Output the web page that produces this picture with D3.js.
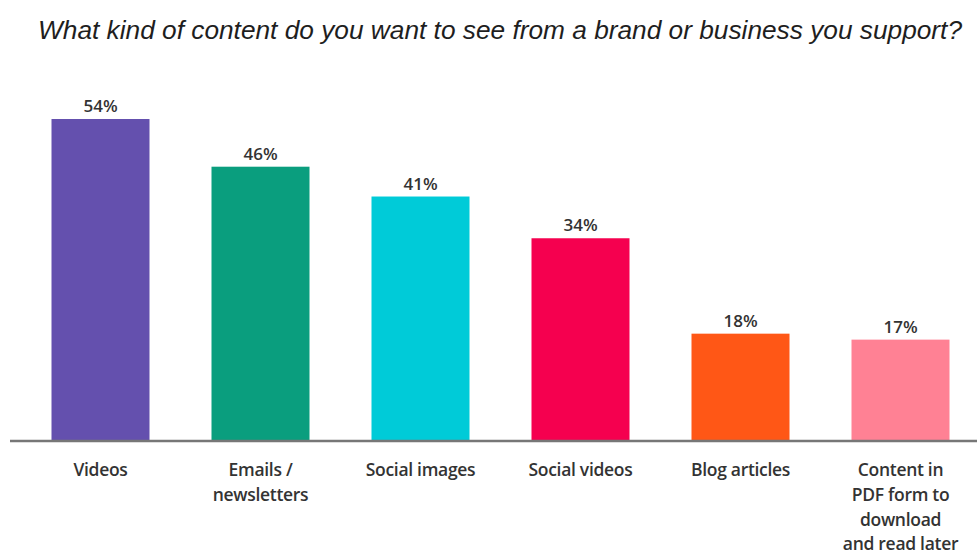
<!DOCTYPE html>
<html>
<head>
<meta charset="utf-8">
<script src="https://cdn.jsdelivr.net/npm/d3@7"></script>
<style>
  body { margin: 0; background: #fff; }
  svg { display: block; }
</style>
</head>
<body>
<script>
// data
var categories = ["Videos", "Emails /\nnewsletters", "Social images", "Social videos",
                  "Blog articles", "Content in\nPDF form to\ndownload\nand read later"];
var values = [54, 46, 41, 34, 18, 17];
var colors = ["#6450ae", "#0a9e7e", "#00cbd8", "#f5004f", "#ff5716", "#ff8194"];

var width = 977, height = 556;

var svg = d3.select("body").append("svg")
    .attr("width", width)
    .attr("height", height);

// title
svg.append("text")
    .attr("x", 38)
    .attr("y", 39)
    .attr("textLength", 924)
    .attr("lengthAdjust", "spacingAndGlyphs")
    .style("font-family", "'Liberation Sans', Arial, sans-serif")
    .style("font-style", "italic")
    .style("font-size", "25px")
    .style("fill", "#1e1e1e")
    .text("What kind of content do you want to see from a brand or business you support?");

var xScale = d3.scaleBand()
    .domain(categories)
    .range([20.5, 980.5])
    .paddingInner(0.3875)
    .paddingOuter(0.19375);

var yScale = d3.scaleLinear()
    .domain([0, 54])
    .range([441, 119]);

// bars
svg.append("g").selectAll("rect")
    .data(values)
    .enter()
    .append("rect")
    .attr("x", function(d, i) { return xScale(categories[i]); })
    .attr("y", function(d) { return yScale(d); })
    .attr("width", xScale.bandwidth())
    .attr("height", function(d) { return yScale(0) - yScale(d); })
    .attr("fill", function(d, i) { return colors[i]; });

// value labels
svg.append("g").selectAll("text")
    .data(values)
    .enter()
    .append("text")
    .attr("x", function(d, i) { return xScale(categories[i]) + xScale.bandwidth() / 2; })
    .attr("y", function(d) { return yScale(d) - 7; })
    .attr("text-anchor", "middle")
    .style("font-family", "'Open Sans', sans-serif")
    .style("font-size", "17px")
    .style("font-weight", "600")
    .style("fill", "#333")
    .text(function(d) { return d + "%"; });

// baseline
svg.append("line")
    .attr("x1", 10)
    .attr("x2", width)
    .attr("y1", yScale(0))
    .attr("y2", yScale(0))
    .attr("stroke", "#777")
    .attr("stroke-width", 2.5);

// category axis
var xAxis = d3.axisBottom(xScale).tickSize(0).tickPadding(0);
var xAxisGroup = svg.append("g")
    .attr("transform", "translate(0," + yScale(0) + ")")
    .call(xAxis);
xAxisGroup.select(".domain").remove();
xAxisGroup.selectAll("text")
    .style("font-family", "'Open Sans', sans-serif")
    .style("font-size", "17.5px")
    .style("font-weight", "600")
    .style("letter-spacing", "-0.3px")
    .style("fill", "#333")
    .attr("y", 0)
    .attr("dy", null)
    .each(function(d) {
        var t = d3.select(this).text("");
        d.split("\n").forEach(function(line, k) {
            t.append("tspan")
                .attr("x", 0)
                .attr("y", 35 + k * 24.8)
                .text(line);
        });
    });
</script>
</body>
</html>
